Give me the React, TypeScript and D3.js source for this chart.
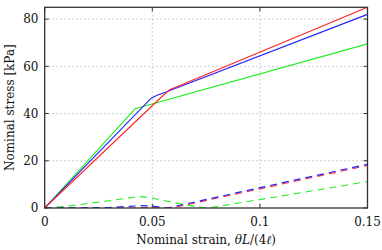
import React, { useEffect, useRef } from 'react'
import * as d3 from 'd3'

// solid curves: total stress
const redX = [0, 0.054, 0.058, 0.062, 0.15]
const redY = [0, 46.8, 50.1, 51.6, 85]
const blueX = [0, 0.0495, 0.052, 0.057, 0.15]
const blueY = [0, 46.5, 47.6, 49.3, 82]
const greenX = [0, 0.042, 0.15]
const greenY = [0, 42, 69.5]

// dashed curves
const redDashX = [0, 0.04, 0.05, 0.059, 0.1, 0.15]
const redDashY = [0, 0, 0.3, 0, 8.1, 18.0]
const blueDashX = [0, 0.03, 0.045, 0.05, 0.057, 0.1, 0.15]
const blueDashY = [0, 0.2, 1.0, 0.8, 0, 8.6, 18.5]
const greenDashX = [0, 0.01, 0.02, 0.03, 0.04, 0.045, 0.05, 0.06, 0.07, 0.076, 0.09, 0.12, 0.15]
const greenDashY = [0, 0.7, 1.9, 3.1, 4.4, 4.8, 4.2, 2.3, 0.6, 0, 2.1, 6.6, 11.2]

const xTicks = [0, 0.05, 0.1, 0.15]
const xTickLabels = ['0', '0.05', '0.1', '0.15']
const yTicks = [0, 20, 40, 60, 80]

const FONT = 'DejaVu Serif'

export default function App() {
  const ref = useRef<SVGSVGElement>(null)

  useEffect(() => {
    document.body.style.margin = '0'
    const width = 382
    const height = 250
    const m = { left: 44.7, right: 367.5, top: 7.3, bottom: 208 }

    const x = d3.scaleLinear().domain([0, 0.15]).range([m.left, m.right])
    const y = d3.scaleLinear().domain([0, 85]).range([m.bottom, m.top])

    const svg = d3.select(ref.current)
    svg.selectAll('*').remove()
    svg.attr('width', width).attr('height', height)

    svg.append('defs').append('clipPath').attr('id', 'plotclip')
      .append('rect')
      .attr('x', m.left).attr('y', m.top - 1)
      .attr('width', m.right - m.left).attr('height', m.bottom - m.top + 1)

    // grid
    const grid = svg.append('g')
      .attr('stroke', '#8a8a8a')
      .attr('stroke-width', 0.8)
      .attr('stroke-dasharray', '1,3')
    grid.selectAll('line.gx')
      .data(xTicks.slice(1, -1))
      .join('line')
      .attr('x1', d => x(d)).attr('x2', d => x(d))
      .attr('y1', m.top).attr('y2', m.bottom)
    grid.selectAll('line.gy')
      .data(yTicks.slice(1))
      .join('line')
      .attr('x1', m.left).attr('x2', m.right)
      .attr('y1', d => y(d)).attr('y2', d => y(d))

    const line = d3.line<[number, number]>()
      .x(d => x(d[0]))
      .y(d => y(d[1]))

    const series = [
      { xs: redDashX, ys: redDashY, color: '#ff3333', dash: '7,5', w: 1.1 },
      { xs: greenDashX, ys: greenDashY, color: '#22ee22', dash: '7,5', w: 1.1 },
      { xs: blueDashX, ys: blueDashY, color: '#2222ff', dash: '7,5', w: 1.2 },
      { xs: greenX, ys: greenY, color: '#22ee22', dash: null, w: 1.1 },
      { xs: blueX, ys: blueY, color: '#2222ff', dash: null, w: 1.1 },
      { xs: redX, ys: redY, color: '#ff2222', dash: null, w: 1.1 },
    ]

    svg.append('g')
      .attr('clip-path', 'url(#plotclip)')
      .selectAll('path')
      .data(series)
      .join('path')
      .attr('fill', 'none')
      .attr('stroke', d => d.color)
      .attr('stroke-width', d => d.w)
      .attr('stroke-dasharray', d => d.dash)
      .attr('d', d => line(d.xs.map((v, i) => [v, d.ys[i]] as [number, number])))

    // frame
    svg.append('rect')
      .attr('x', m.left).attr('y', m.top)
      .attr('width', m.right - m.left).attr('height', m.bottom - m.top)
      .attr('fill', 'none')
      .attr('stroke', '#333')
      .attr('stroke-width', 1.3)

    // inward ticks on all sides
    const ticks = svg.append('g').attr('stroke', '#333').attr('stroke-width', 1)
    xTicks.forEach(t => {
      ticks.append('line').attr('x1', x(t)).attr('x2', x(t)).attr('y1', m.bottom).attr('y2', m.bottom - 4)
      ticks.append('line').attr('x1', x(t)).attr('x2', x(t)).attr('y1', m.top).attr('y2', m.top + 4)
    })
    yTicks.forEach(t => {
      ticks.append('line').attr('x1', m.left).attr('x2', m.left + 4).attr('y1', y(t)).attr('y2', y(t))
      ticks.append('line').attr('x1', m.right).attr('x2', m.right - 4).attr('y1', y(t)).attr('y2', y(t))
    })

    // tick labels
    svg.append('g')
      .selectAll('text')
      .data(xTicks)
      .join('text')
      .attr('x', d => x(d))
      .attr('y', 225.5)
      .attr('text-anchor', 'middle')
      .attr('font-family', FONT)
      .attr('font-size', 12)
      .attr('fill', '#111')
      .text((d, i) => xTickLabels[i])

    svg.append('g')
      .selectAll('text')
      .data(yTicks)
      .join('text')
      .attr('x', 38.5)
      .attr('y', d => y(d))
      .attr('dy', '0.36em')
      .attr('text-anchor', 'end')
      .attr('font-family', FONT)
      .attr('font-size', 12)
      .attr('fill', '#111')
      .text(d => String(d))

    // axis labels
    const xl = svg.append('text')
      .attr('x', (m.left + m.right) / 2)
      .attr('y', 244)
      .attr('text-anchor', 'middle')
      .attr('font-family', FONT)
      .attr('font-size', 12)
      .attr('fill', '#111')
    xl.append('tspan').text('Nominal strain, ')
    xl.append('tspan').attr('font-style', 'italic').text('θL')
    xl.append('tspan').text('/(4')
    xl.append('tspan').attr('font-style', 'italic').text('ℓ')
    xl.append('tspan').text(')')

    svg.append('text')
      .attr('transform', `translate(14,${(m.top + m.bottom) / 2}) rotate(-90)`)
      .attr('text-anchor', 'middle')
      .attr('font-family', FONT)
      .attr('font-size', 12)
      .attr('fill', '#111')
      .text('Nominal stress [kPa]')
  }, [])

  return (
    <div id="chart">
      <svg ref={ref} style={{ display: 'block' }}></svg>
    </div>
  )
}
